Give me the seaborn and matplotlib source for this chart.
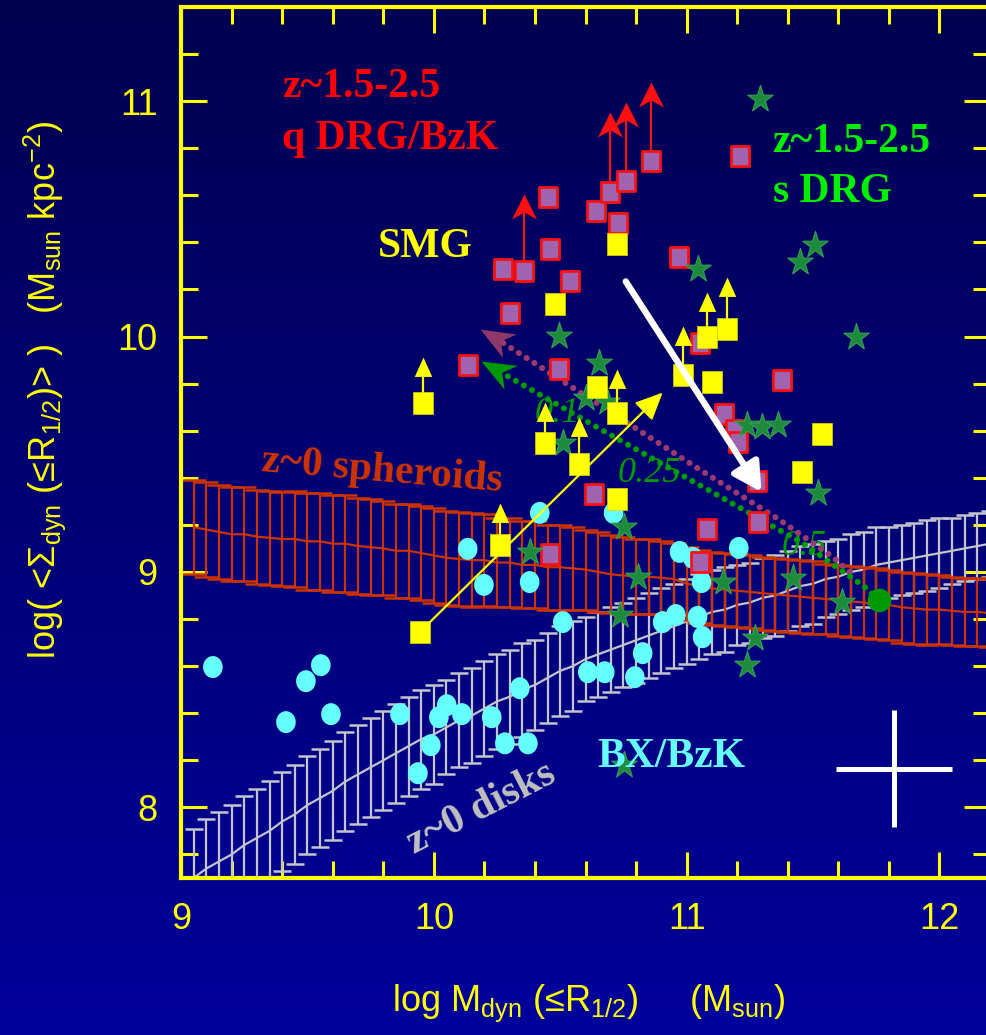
import numpy as np
import matplotlib
matplotlib.use("Agg")
import matplotlib.pyplot as plt
from matplotlib import font_manager
from matplotlib.path import Path
from matplotlib.markers import MarkerStyle
from matplotlib.transforms import Affine2D
from matplotlib.ticker import MultipleLocator
from matplotlib.colors import LinearSegmentedColormap
import seaborn as sns

# ---------------------------------------------------------------- data
# quiescent DRG / BzK galaxies (log Mdyn, log Sigma_dyn)
qdrg_x = [10.134, 10.273, 10.300, 10.356, 10.451, 10.458, 10.494, 10.538, 10.640,
          10.696, 10.727, 10.759, 10.858, 10.968, 11.209, 11.379, 11.146, 11.190,
          11.202, 11.277, 11.281, 11.079, 11.051, 10.632, 10.458, 11.051]
qdrg_y = [9.877, 10.285, 10.102, 10.277, 10.591, 10.370, 9.864, 10.234, 10.532,
          10.613, 10.481, 10.660, 10.745, 10.336, 10.766, 9.817, 9.672, 9.604,
          9.553, 9.387, 9.213, 9.183, 9.043, 9.332, 9.077, 9.974]
# lower limits: base value and arrow tip
qlim_x = [10.356, 10.696, 10.759, 10.858]
qlim_y = [10.277, 10.613, 10.660, 10.745]
qlim_tip = [10.604, 10.953, 10.996, 11.080]

# star-forming DRGs
sdrg_x = [11.289, 11.506, 11.447, 11.043, 10.494, 11.668, 10.652, 10.601, 10.684,
          10.510, 10.751, 10.379, 10.806, 10.735, 11.237, 11.296, 11.360, 11.518,
          11.142, 11.419, 11.613, 11.269, 11.237, 10.751]
sdrg_y = [11.009, 10.387, 10.315, 10.285, 10.004, 9.996, 9.889, 9.740, 9.723,
          9.549, 9.191, 9.085, 8.979, 8.817, 9.626, 9.617, 9.626, 9.336,
          8.957, 8.974, 8.872, 8.719, 8.604, 8.179]

# submillimetre galaxies
smg_x = [9.957, 9.945, 10.261, 10.439, 10.573, 10.478, 10.723, 10.644, 10.723,
         10.723, 10.984, 11.079, 11.158, 11.099, 11.534, 11.458]
smg_y = [9.719, 8.745, 9.115, 9.549, 9.460, 10.140, 10.391, 9.787, 9.677,
         9.311, 9.838, 10.000, 10.030, 9.808, 9.587, 9.426]
slim_x = [9.957, 10.261, 10.439, 10.573, 10.723, 10.984, 11.079, 11.158]
slim_y = [9.719, 9.115, 9.549, 9.460, 9.677, 9.838, 10.000, 10.030]
slim_tip = [9.915, 9.294, 9.720, 9.660, 9.864, 10.043, 10.187, 10.251]

# BX / BzK galaxies
bx_x = [9.126, 9.415, 9.494, 9.553, 9.593, 9.866, 9.937, 9.988, 10.020, 10.051,
        10.111, 10.229, 10.281, 10.340, 10.372, 10.134, 10.198, 10.379, 10.419,
        10.510, 10.609, 10.676, 10.795, 10.826, 10.905, 10.957, 10.711, 10.972,
        11.024, 11.206, 11.059, 11.043, 11.063]
bx_y = [8.596, 8.362, 8.536, 8.604, 8.396, 8.396, 8.145, 8.264, 8.383, 8.434,
        8.396, 8.383, 8.272, 8.506, 8.272, 9.098, 8.945, 8.957, 9.251,
        8.787, 8.574, 8.574, 8.553, 8.655, 8.787, 8.817, 9.251, 9.085,
        9.060, 9.102, 8.957, 8.809, 8.723]

# local relations, 0.05 dex bins in log Mdyn
band_x = [9.05, 9.10, 9.15, 9.20, 9.25, 9.30, 9.35, 9.40, 9.45, 9.50, 9.55, 9.60,
          9.65, 9.70, 9.75, 9.80, 9.85, 9.90, 9.95, 10.00, 10.05, 10.10, 10.15,
          10.20, 10.25, 10.30, 10.35, 10.40, 10.45, 10.50, 10.55, 10.60, 10.65,
          10.70, 10.75, 10.80, 10.85, 10.90, 10.95, 11.00, 11.05, 11.10, 11.15,
          11.20, 11.25, 11.30, 11.35, 11.40, 11.45, 11.50, 11.55, 11.60, 11.65,
          11.70, 11.75, 11.80, 11.85, 11.90, 11.95, 12.00, 12.05, 12.10, 12.15, 12.20]
sph_mid = [9.19, 9.18, 9.17, 9.16, 9.16, 9.15, 9.145, 9.14, 9.14, 9.13, 9.13, 9.12,
           9.12, 9.11, 9.105, 9.10, 9.09, 9.09, 9.08, 9.07, 9.06, 9.055, 9.05,
           9.05, 9.04, 9.04, 9.03, 9.03, 9.02, 9.02, 9.015, 9.01, 9.00,
           8.99, 8.985, 8.98, 8.98, 8.975, 8.97, 8.95, 8.94, 8.93, 8.925,
           8.92, 8.915, 8.91, 8.905, 8.90, 8.895, 8.89, 8.885, 8.88, 8.875,
           8.87, 8.865, 8.86, 8.85, 8.845, 8.84, 8.84, 8.835, 8.83, 8.83, 8.825]
sph_err = [0.20, 0.20, 0.20, 0.20, 0.20, 0.20, 0.20, 0.20, 0.205, 0.205, 0.205, 0.205,
           0.205, 0.205, 0.205, 0.20, 0.20, 0.20, 0.20, 0.20, 0.20, 0.20, 0.20,
           0.195, 0.19, 0.19, 0.185, 0.185, 0.18, 0.18, 0.175, 0.17, 0.17,
           0.165, 0.165, 0.16, 0.16, 0.155, 0.155, 0.155, 0.155, 0.155, 0.155,
           0.155, 0.155, 0.155, 0.155, 0.155, 0.155, 0.155, 0.15, 0.15, 0.15,
           0.15, 0.15, 0.15, 0.15, 0.15, 0.15, 0.145, 0.145, 0.145, 0.145, 0.145]
disk_mid = [7.70, 7.74, 7.77, 7.80, 7.84, 7.87, 7.90, 7.94, 7.97, 8.01, 8.04, 8.07,
            8.11, 8.14, 8.17, 8.20, 8.23, 8.26, 8.29, 8.31, 8.34, 8.37, 8.39,
            8.42, 8.45, 8.47, 8.50, 8.52, 8.55, 8.58, 8.60, 8.63, 8.65,
            8.67, 8.69, 8.71, 8.73, 8.75, 8.77, 8.79, 8.81, 8.83, 8.84,
            8.86, 8.87, 8.89, 8.90, 8.92, 8.94, 8.95, 8.97, 8.98, 9.00,
            9.01, 9.03, 9.04, 9.05, 9.06, 9.07, 9.08, 9.09, 9.10, 9.11, 9.12]
disk_err = [0.21, 0.21, 0.21, 0.21, 0.21, 0.21, 0.21, 0.21, 0.21, 0.21, 0.21, 0.21,
            0.21, 0.21, 0.21, 0.21, 0.21, 0.21, 0.21, 0.21, 0.20, 0.20, 0.20,
            0.20, 0.20, 0.20, 0.20, 0.19, 0.19, 0.19, 0.19, 0.18, 0.18,
            0.18, 0.18, 0.18, 0.18, 0.18, 0.18, 0.18, 0.18, 0.18, 0.18,
            0.17, 0.17, 0.17, 0.17, 0.17, 0.17, 0.17, 0.16, 0.16, 0.16,
            0.16, 0.16, 0.15, 0.15, 0.15, 0.15, 0.15, 0.14, 0.14, 0.14, 0.14]

# dissipative-merger tracks (labelled by gas fraction)
track_g_x = [11.759, 11.700, 11.458, 11.091, 10.684, 10.281, 10.186]
track_g_y = [8.881, 8.940, 9.123, 9.345, 9.591, 9.838, 9.894]
track_p_x = [11.644, 11.577, 11.368, 11.047, 10.727, 10.265, 10.182]
track_p_y = [9.000, 9.064, 9.221, 9.438, 9.660, 9.979, 10.030]
frac_labels = ["0.1", "0.25", "0.5"]
frac_x = [10.399, 10.727, 11.375]
frac_y = [9.638, 9.383, 9.072]

# evolution vectors (start, end)
smg_vec = [(9.945, 8.745), (10.905, 9.762)]
white_vec = [(10.759, 10.234), (11.296, 9.340)]

# typical uncertainty
err_x, err_y, err_dx, err_dy = 11.82, 8.165, 0.23, 0.25

# ---------------------------------------------------------------- style
sns.set_style("ticks")


def have_font(name):
    try:
        font_manager.findfont(font_manager.FontProperties(family=name),
                              fallback_to_default=False)
        return True
    except ValueError:
        return False


if have_font("Liberation Sans Narrow"):
    SANS, LABEL_SIZE = "Liberation Sans Narrow", 29
else:
    SANS, LABEL_SIZE = "Liberation Sans", 26

plt.rcParams["font.family"] = [SANS, "DejaVu Sans"]
plt.rcParams["mathtext.fontset"] = "custom"
plt.rcParams["mathtext.rm"] = SANS
plt.rcParams["mathtext.it"] = SANS
plt.rcParams["mathtext.bf"] = SANS + ":bold"
plt.rcParams["mathtext.sf"] = SANS
plt.rcParams["axes.unicode_minus"] = False

YEL = "#ffff00"
SERIF = ["Liberation Serif", "DejaVu Serif"]

fig = plt.figure(figsize=(9.87, 10.35), dpi=100)

# vertical gradient backdrop
bg = fig.add_axes([0, 0, 1, 1], zorder=-5)
grad = np.linspace(0, 1, 256)[:, None]
cmap = LinearSegmentedColormap.from_list("bgblue", ["#000050", "#00009c"])
bg.imshow(grad, cmap=cmap, aspect="auto", extent=[0, 1, 0, 1])
bg.axis("off")

ax = fig.add_axes([0.1834, 0.1517, 0.8197, 0.8416])
ax.set_facecolor("none")
ax.set_xlim(9, 12.2)
ax.set_ylim(7.7, 11.4)


def stretched(marker, sy):
    ms = MarkerStyle(marker)
    p = ms.get_path().transformed(ms.get_transform())
    return p.transformed(Affine2D().scale(1.0, sy))


square_m = stretched("s", 1.05)
circle_m = stretched("o", 1.12)
star_m = stretched("*", 1.05)
tri_head = Path([(0, 0), (-0.45, -1), (0.45, -1), (0, 0)],
                [Path.MOVETO, Path.LINETO, Path.LINETO, Path.CLOSEPOLY])
notch_head = Path([(0, 0), (0.5, -1), (0, -0.72), (-0.5, -1), (0, 0)],
                  [Path.MOVETO, Path.LINETO, Path.LINETO, Path.LINETO, Path.CLOSEPOLY])
track_head = Path([(0, 0), (0.4, -1), (0, -0.7), (-0.4, -1), (0, 0)],
                  [Path.MOVETO, Path.LINETO, Path.LINETO, Path.LINETO, Path.CLOSEPOLY])

# local disk and spheroid relations
ax.errorbar(band_x, disk_mid, yerr=disk_err, fmt="-", color="#c4c4cc", lw=1.6,
            elinewidth=1.6, capsize=6.5, capthick=1.8, zorder=2)
ax.errorbar(band_x, sph_mid, yerr=sph_err, fmt="-", color="#cc3300", lw=1.6,
            elinewidth=1.6, capsize=8.5, capthick=1.8, zorder=2.5)

# gas-fraction labels sit under the points
for t, x, y in zip(frac_labels, frac_x, frac_y):
    ax.text(x, y, t, color="#009a00", fontsize=26, style="italic",
            family=SERIF, ha="left", va="baseline", zorder=3)

# merger tracks
ax.plot(track_p_x[:-1], track_p_y[:-1], color="#9a3a6e", lw=4.4,
        ls=(0, (0.01, 1.5)), dash_capstyle="round", zorder=4)
ax.plot(track_g_x[:-1], track_g_y[:-1], color="#009a00", lw=4.4,
        ls=(0, (0.01, 1.5)), dash_capstyle="round", zorder=4)
ax.plot(track_g_x[0], track_g_y[0], "o", color="#009a00", ms=16, zorder=4)


def head_angle(xs, ys):
    a = ax.transData.transform((xs[-2], ys[-2]))
    b = ax.transData.transform((xs[-1], ys[-1]))
    return np.degrees(np.arctan2(b[1] - a[1], b[0] - a[0])) - 90.0


for xs, ys, col in [(track_p_x, track_p_y, "#8e3868"), (track_g_x, track_g_y, "#009a00")]:
    m = track_head.transformed(Affine2D().rotate_deg(head_angle(xs, ys)))
    ax.plot(xs[-1], ys[-1], marker=m, ms=52, color=col, mec="none", zorder=4)

# BX / BzK
sns.scatterplot(x=bx_x, y=bx_y, marker=circle_m, s=250, color="#66ffff",
                edgecolor="none", linewidth=0, ax=ax, zorder=6)

# quiescent DRG lower-limit arrows
for x, y0, y1 in zip(qlim_x, qlim_y, qlim_tip):
    ax.plot([x, x], [y0, y1 - 0.05], color="#ff1010", lw=1.5, zorder=5)
ax.plot(qlim_x, qlim_tip, ls="none", marker=notch_head, ms=36, color="#ff1010",
        mec="none", zorder=5)

# quiescent DRG / BzK
sns.scatterplot(x=qdrg_x, y=qdrg_y, marker=square_m, s=200, color="#a063b0",
                edgecolor="#ff1010", linewidth=2.0, ax=ax, zorder=6)

# star-forming DRGs
sns.scatterplot(x=sdrg_x, y=sdrg_y, marker=star_m, s=410, color="#1e8a3c",
                edgecolor="#35a055", linewidth=0.8, ax=ax, zorder=6)

# SMG lower limits and points
for x, y0, y1 in zip(slim_x, slim_y, slim_tip):
    ax.plot([x, x], [y0, y1 - 0.03], color=YEL, lw=1.6, zorder=6)
ax.plot(slim_x, slim_tip, ls="none", marker=tri_head, ms=28, color=YEL,
        mec="none", zorder=6)
sns.scatterplot(x=smg_x, y=smg_y, marker=square_m, s=245, color=YEL,
                edgecolor="#d8d800", linewidth=0.5, ax=ax, zorder=7)

# evolution vectors
ax.annotate("", xy=smg_vec[1], xytext=smg_vec[0],
            arrowprops=dict(arrowstyle="-|>,head_length=1.2,head_width=0.55",
                            mutation_scale=14, lw=1.6, color=YEL,
                            shrinkA=0, shrinkB=0), zorder=8)
ax.annotate("", xy=white_vec[1], xytext=white_vec[0],
            arrowprops=dict(arrowstyle="-|>,head_length=1.0,head_width=0.55",
                            mutation_scale=17, lw=4.6, color="white",
                            shrinkA=0, shrinkB=0), zorder=8)

# typical error
ax.errorbar(err_x, err_y, xerr=err_dx, yerr=err_dy, fmt="none", ecolor="white",
            elinewidth=3.6, capsize=0, zorder=8)

# labels inside the panel
bold = dict(family=SERIF, fontweight="bold", fontsize=30, va="baseline", ha="left")
ax.text(9.399, 11.017, "z~1.5-2.5", color="#ff0000", zorder=9, **bold)
ax.text(9.399, 10.796, "q DRG/BzK", color="#ff0000", zorder=9, **bold)
ax.text(11.340, 10.783, "z~1.5-2.5", color="#00ee00", zorder=9, **bold)
ax.text(11.340, 10.570, "s DRG", color="#00ee00", zorder=9, **bold)
ax.text(9.779, 10.336, "SMG", color=YEL, zorder=9, **bold)
ax.text(10.648, 8.170, "BX/BzK", color="#66ffff", zorder=9, **bold)
ax.text(9.79, 9.387, "z~0 spheroids", color="#cc3300", family=SERIF,
        fontweight="bold", fontsize=30, ha="center", va="baseline",
        rotation=-4.8, rotation_mode="anchor", zorder=3)
ax.text(10.206, 7.957, "z~0 disks", color="#c0c0c0", family=SERIF,
        fontweight="bold", fontsize=30, ha="center", va="baseline",
        rotation=27, rotation_mode="anchor", zorder=3)

# axes styling
for s in ax.spines.values():
    s.set_color(YEL)
    s.set_linewidth(3)
ax.xaxis.set_major_locator(MultipleLocator(1))
ax.xaxis.set_minor_locator(MultipleLocator(0.2))
ax.yaxis.set_major_locator(MultipleLocator(1))
ax.yaxis.set_minor_locator(MultipleLocator(0.2))
ax.tick_params(which="both", direction="in", color=YEL, top=True, right=True,
               width=2.2, labelcolor=YEL, labelsize=LABEL_SIZE)
ax.tick_params(which="major", length=19)
ax.tick_params(which="minor", length=12)
ax.tick_params(axis="x", pad=17)
ax.tick_params(axis="y", pad=17)
ax.set_xticks([9, 10, 11, 12])
ax.set_xticklabels(["9", "10", "11", "12"])
ax.set_yticks([8, 9, 10, 11])
ax.set_yticklabels(["8", "9", "10", "11"])

fig.text(589 / 987, 1 - 1003 / 1035,
         r"log M$_{\rm dyn}$ (≤R$_{\rm 1/2}$)     (M$_{\rm sun}$)",
         color=YEL, fontsize=LABEL_SIZE, ha="center", va="center")
fig.text(45 / 987, 1 - 390 / 1035,
         r"log( <$\Sigma_{\rm dyn}$ (≤R$_{\rm 1/2}$)> )   (M$_{\rm sun}$ $\rm kpc^{-2}$)",
         color=YEL, fontsize=LABEL_SIZE, ha="center", va="center", rotation=90)

fig.savefig("out.png", dpi=100)
